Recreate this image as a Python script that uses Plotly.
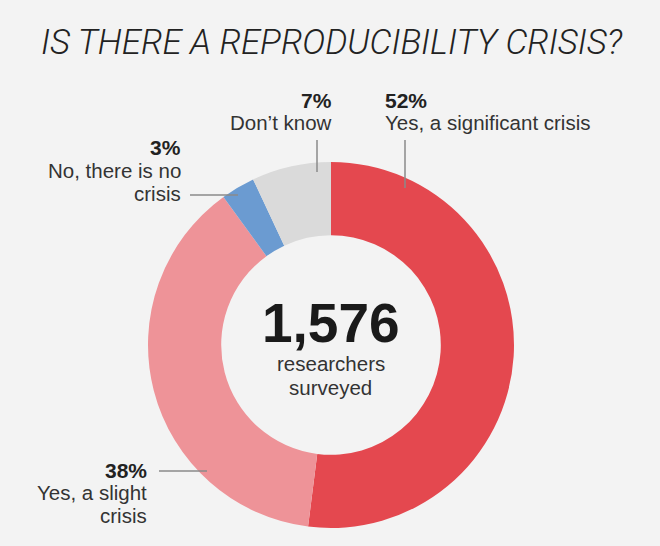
import plotly.graph_objects as go

W, H = 660, 546

# Data
categories = ["Yes, a significant crisis", "Yes, a slight crisis", "No, there is no crisis", "Don't know"]
values = [52, 38, 3, 7]
pct_labels = ["52%", "38%", "3%", "7%"]
colors = ["#e4484f", "#ee9398", "#6b9bd1", "#dadada"]
total_label = "1,576"
center_lines = ["researchers", "surveyed"]
title_text = "IS THERE A REPRODUCIBILITY CRISIS?"

cx, cy, R = 331, 345, 183

def px(x):
    return x / W

def py(y):
    return 1 - y / H

fig = go.Figure(go.Pie(
    labels=categories,
    values=values,
    sort=False,
    direction="clockwise",
    rotation=0,
    hole=0.60,
    marker=dict(colors=colors, line=dict(width=0)),
    textinfo="none",
    hoverinfo="skip",
    showlegend=False,
    domain=dict(x=[px(cx - R), px(cx + R)], y=[py(cy + R), py(cy - R)]),
))

LABEL_FONT = dict(family="Liberation Sans, Arial, sans-serif", size=20.5, color="#333333")
PCT_FONT = dict(family="Liberation Sans, Arial, sans-serif", size=21, color="#222222", weight="bold")

ann = []

def add(text, x, y, font, xanchor):
    ann.append(dict(text=text, x=px(x), y=py(y), xref="paper", yref="paper",
                    xanchor=xanchor, yanchor="middle", showarrow=False, font=font))

# Title
ann.append(dict(text=title_text, x=px(332), y=py(42), xref="paper", yref="paper",
                xanchor="center", yanchor="middle", showarrow=False,
                font=dict(family="Roboto, sans-serif", size=34.8, color="#222222",
                          style="italic", weight=300)))

# Labels: (pct, lines, x, y of pct, anchor)
label_specs = [
    (pct_labels[0], ["Yes, a significant crisis"], 383, 100, "left"),
    (pct_labels[3], ["Don\u2019t know"], 334, 100, "right"),
    (pct_labels[2], ["No, there is no", "crisis"], 183, 148, "right"),
    (pct_labels[1], ["Yes, a slight", "crisis"], 149, 470, "right"),
]
for pct, lines, x, y, anc in label_specs:
    add(pct, x, y, PCT_FONT, anc)
    for i, ln in enumerate(lines):
        add(ln, x, y + 22.5 * (i + 1), LABEL_FONT, anc)

# Center text
add(total_label, cx, 323, dict(family="Liberation Sans, sans-serif", size=55,
                               color="#1a1a1a", weight="bold"), "center")
for i, ln in enumerate(center_lines):
    add(ln, cx, 363 + 24 * i, LABEL_FONT, "center")

# Leader lines
leaders = [
    (405, 140, 405, 188),
    (317, 140, 317, 172),
    (190, 195, 238, 195),
    (159, 471, 207, 471),
]
shapes = [dict(type="line", xref="paper", yref="paper",
               x0=px(a), y0=py(b), x1=px(c), y1=py(d),
               line=dict(color="#8a8a8a", width=1.5)) for a, b, c, d in leaders]

fig.update_layout(
    width=W, height=H,
    margin=dict(l=0, r=0, t=0, b=0),
    paper_bgcolor="#f3f3f3",
    plot_bgcolor="#f3f3f3",
    annotations=ann,
    shapes=shapes,
)

fig.write_html(
    "out.html",
    config={"displayModeBar": False},
    post_script="document.body.style.margin='0';document.body.style.overflow='hidden';",
)
